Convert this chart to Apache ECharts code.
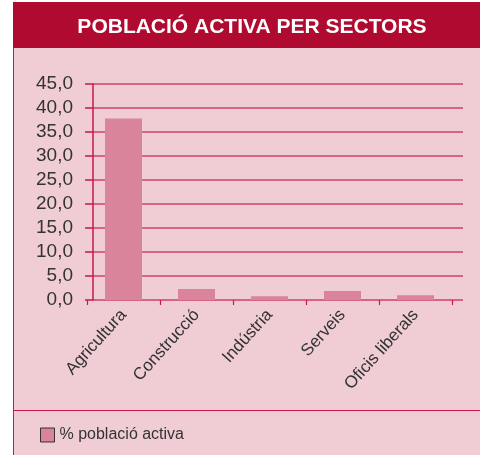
<!DOCTYPE html>
<html><head><meta charset="utf-8">
<script src="https://cdn.jsdelivr.net/npm/echarts@6/dist/echarts.min.js"></script>
<style>
html,body{margin:0;padding:0;background:#fff;}
#wrap{position:relative;width:480px;height:455px;overflow:hidden;}
#band{position:absolute;left:13px;top:2px;width:467px;height:46px;background:#B00A30;}
#panel{position:absolute;left:13px;top:48px;width:467px;height:420px;background:#F0CDD4;border-left:1.5px solid #C8194A;box-sizing:border-box;}
#sep{position:absolute;left:13px;top:410px;width:467px;height:0;border-top:1.5px solid #C8194A;}
#chart{position:absolute;left:0;top:0;width:480px;height:455px;}
</style></head>
<body><div id="wrap"><div id="band"></div><div id="panel"></div><div id="sep"></div><div id="chart"></div></div>
<script>
const titleText = 'POBLACIÓ ACTIVA PER SECTORS';
const categories = ['Agricultura', 'Construcció', 'Indústria', 'Serveis', 'Oficis liberals'];
const seriesName = '% població activa';
const values = [37.8, 2.3, 0.8, 1.9, 1.0];
const yMin = 0, yMax = 45, yStep = 5;

const chart = echarts.init(document.getElementById('chart'), null, {renderer: 'canvas'});
const lineCol = '#C8194A';
const font = 'Liberation Sans, Arial, sans-serif';
chart.setOption({
  backgroundColor: 'transparent',
  animation: false,
  title: {
    text: titleText, left: 247, top: 12, textAlign: 'center',
    textStyle: {color: '#fff', fontSize: 21, fontWeight: 'bold', fontFamily: font}
  },
  legend: {
    data: [seriesName], left: 35, top: 422, icon: 'rect', itemWidth: 14, itemHeight: 14, itemGap: 8,
    itemStyle: {borderColor: '#333', borderWidth: 1},
    textStyle: {color: '#333', fontSize: 16, fontFamily: font}
  },
  grid: [
    {left: 93, right: 17, top: 84, bottom: 155, containLabel: false},
    {left: 87, right: 28, top: 84, bottom: 155, containLabel: false}
  ],
  xAxis: [
    {gridIndex: 0, type: 'value', show: false, min: 0, max: 1},
    {gridIndex: 1, type: 'category', data: categories,
     axisLine: {show: false},
     axisTick: {show: true, length: 5, lineStyle: {color: lineCol, width: 1.2}},
     axisLabel: {rotate: 48, color: '#333', fontSize: 17, fontFamily: font, margin: 12}}
  ],
  yAxis: [
    {gridIndex: 0, type: 'value', min: yMin, max: yMax, interval: yStep,
     axisLine: {show: true, lineStyle: {color: lineCol, width: 1.5}},
     axisTick: {show: true, length: 8, lineStyle: {color: lineCol, width: 1.5}},
     splitLine: {show: true, lineStyle: {color: '#CF4068', width: 1.5}},
     axisLabel: {color: '#333', fontSize: 19, fontFamily: font, margin: 20, verticalAlign: 'middle',
                 padding: [0, 0, 10, 0],
                 formatter: v => v.toFixed(1).replace('.', ',')}},
    {gridIndex: 1, type: 'value', min: yMin, max: yMax, interval: yStep, show: false}
  ],
  series: [{
    name: seriesName, type: 'bar', xAxisIndex: 1, yAxisIndex: 1, data: values,
    barWidth: 37, itemStyle: {color: '#D9849A'}
  }]
});
</script></body></html>
